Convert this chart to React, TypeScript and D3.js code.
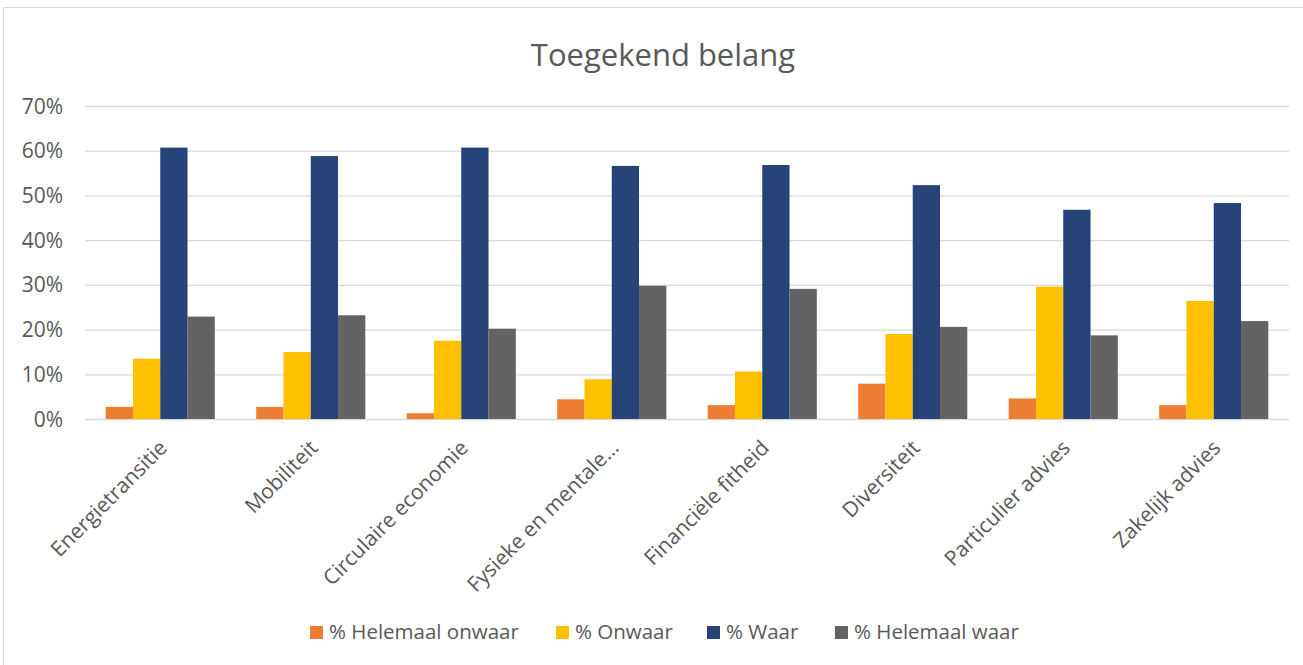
import { useEffect, useRef } from "react";
import * as d3 from "d3";

const categories = [
  "Energietransitie",
  "Mobiliteit",
  "Circulaire economie",
  "Fysieke en mentale…",
  "Financiële fitheid",
  "Diversiteit",
  "Particulier advies",
  "Zakelijk advies",
];
const seriesNames = ["% Helemaal onwaar", "% Onwaar", "% Waar", "% Helemaal waar"];
const helemaalOnwaar = [2.7, 2.7, 1.3, 4.4, 3.1, 7.9, 4.6, 3.1];
const onwaar = [13.5, 15.0, 17.5, 8.9, 10.6, 19.0, 29.6, 26.4];
const waar = [60.7, 58.8, 60.7, 56.6, 56.8, 52.3, 46.8, 48.3];
const helemaalWaar = [22.9, 23.2, 20.2, 29.8, 29.1, 20.6, 18.7, 21.9];
const yTicks = [0, 10, 20, 30, 40, 50, 60, 70];
const colors = ["#ED7D31", "#FFC000", "#264478", "#636363"];

const W = 1303;
const H = 665;
const FONT = "'Open Sans', sans-serif";
const TEXT = "#595959";

function App() {
  const ref = useRef<SVGSVGElement>(null);

  useEffect(() => {
    const svg = d3.select(ref.current);
    svg.selectAll("*").remove();
    const series = [helemaalOnwaar, onwaar, waar, helemaalWaar];
    const margin = { top: 106, right: 14, bottom: 246, left: 85 };

    // chart frame
    svg
      .append("rect")
      .attr("x", 3.5)
      .attr("y", 7.5)
      .attr("width", W + 20)
      .attr("height", H + 20)
      .attr("fill", "#fff")
      .attr("stroke", "#D9D9D9");

    svg
      .append("text")
      .attr("x", 663)
      .attr("y", 66)
      .attr("text-anchor", "middle")
      .attr("font-family", FONT)
      .attr("font-size", 31)
      .attr("fill", TEXT)
      .text("Toegekend belang");

    const x = d3
      .scaleBand()
      .domain(categories)
      .range([margin.left, W - margin.right])
      .paddingInner(0.275)
      .paddingOuter(0.1375);

    const x1 = d3
      .scaleBand()
      .domain(seriesNames)
      .range([0, x.bandwidth()]);

    const y = d3
      .scaleLinear()
      .domain([0, 70])
      .range([H - margin.bottom, margin.top]);

    svg
      .append("g")
      .selectAll("line")
      .data(yTicks)
      .join("line")
      .attr("x1", margin.left)
      .attr("x2", W - margin.right)
      .attr("y1", (d) => y(d) + 0.5)
      .attr("y2", (d) => y(d) + 0.5)
      .attr("stroke", "#D9D9D9")
      .attr("stroke-width", 1.3);

    svg
      .append("g")
      .selectAll("text")
      .data(yTicks)
      .join("text")
      .attr("x", 63)
      .attr("y", (d) => y(d))
      .attr("dy", "0.36em")
      .attr("text-anchor", "end")
      .attr("font-family", FONT)
      .attr("font-size", 21)
      .attr("fill", TEXT)
      .text((d) => `${d}%`);

    categories.forEach((cat, ci) => {
      const g = svg.append("g").attr("transform", `translate(${x(cat)},0)`);
      seriesNames.forEach((s, si) => {
        const v = series[si][ci];
        g.append("rect")
          .attr("x", x1(s) ?? 0)
          .attr("y", y(v))
          .attr("width", x1.bandwidth())
          .attr("height", y(0) - y(v))
          .attr("fill", colors[si]);
      });
    });

    svg
      .append("g")
      .selectAll("text")
      .data(categories)
      .join("text")
      .attr("transform", (d) => {
        const cx = (x(d) ?? 0) + x.bandwidth() / 2;
        return `translate(${cx + 3},${y(0) + 25}) rotate(-45)`;
      })
      .attr("text-anchor", "end")
      .attr("dy", "0.35em")
      .attr("font-family", FONT)
      .attr("font-size", 21)
      .attr("fill", TEXT)
      .text((d) => d);

    // legend
    const legend = svg.append("g");
    const legendX = [310, 556, 707, 835];
    seriesNames.forEach((s, i) => {
      legend
        .append("rect")
        .attr("x", legendX[i])
        .attr("y", 626)
        .attr("width", 13)
        .attr("height", 13)
        .attr("fill", colors[i]);
      legend
        .append("text")
        .attr("x", legendX[i] + 19)
        .attr("y", 632)
        .attr("dy", "0.36em")
        .attr("font-family", FONT)
        .attr("font-size", 20.5)
        .attr("fill", TEXT)
        .text(s);
    });
  }, []);

  return (
    <svg
      ref={ref}
      width={W}
      height={H}
      style={{ position: "absolute", left: 0, top: 0 }}
    />
  );
}

export default App;
